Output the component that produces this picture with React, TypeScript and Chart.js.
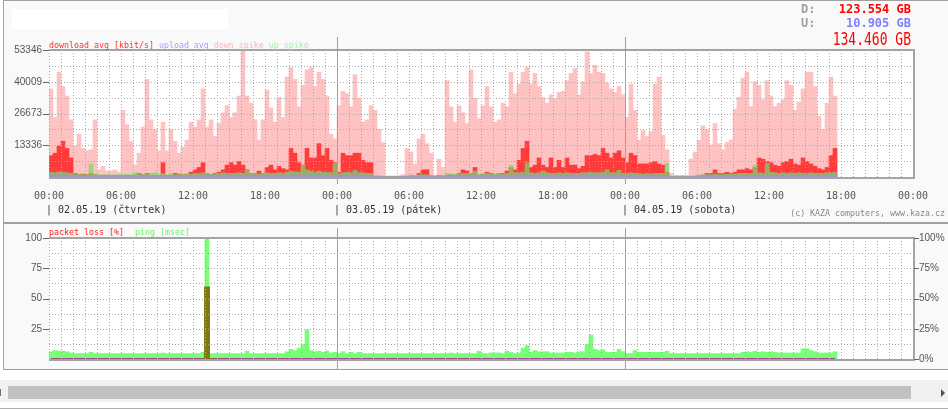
import React, { useEffect, useRef } from 'react';
import { Chart, registerables } from 'chart.js';

Chart.register(...registerables);

// ---- time axis (20-minute samples) ----
const STEPS_PER_HOUR = 3;
const TOTAL_HOURS = 72;
const TOTAL_STEPS = STEPS_PER_HOUR * TOTAL_HOURS;
const DAY_HOURS = [24, 48];

const xTickHours = [0, 6, 12, 18, 24, 30, 36, 42, 48, 54, 60, 66, 72];
const xTickLabels = ['00:00', '06:00', '12:00', '18:00', '00:00', '06:00', '12:00', '18:00', '00:00', '06:00', '12:00', '18:00', '00:00'];
const dayStartHours = [0, 24, 48];
const dayLabels = ['| 02.05.19 (čtvrtek)', '| 03.05.19 (pátek)', '| 04.05.19 (sobota)'];

// ---- traffic axis ----
const trafficMax = 53346;
const trafficTickValues = [0, 13336.5, 26673, 40009.5, 53346];
const trafficTickLabels = ['', '13336', '26673', '40009', '53346'];

// ---- ping / loss axes ----
const pingTickValues = [0, 25, 50, 75, 100];
const pingTickLabels = ['', '25', '50', '75', '100'];
const lossTickLabels = ['0%', '25%', '50%', '75%', '100%'];

// ---- series (kbit/s), one value per 20 minutes ----
const downSpike = [
  37000, 25000, 44000, 38000, 34000, 24000, 13000, 18000, 12000, 11000, 11500, 24000,
  3000, 4500, 2500, 2500, 3000, 2000, 28000, 22000, 15000, 5000, 10000, 21000,
  41000, 24000, 20000, 11000, 23000, 11000, 20000, 15000, 10000, 12500, 15500, 23000,
  21000, 24000, 37000, 21000, 24000, 17000, 22500, 27000, 30000, 25000, 27000, 34000,
  53000, 34000, 31000, 24000, 15500, 24000, 36500, 29000, 23000, 33500, 25000, 42000,
  46000, 41000, 29500, 38500, 45000, 46000, 38000, 44000, 41000, 34000, 18000, 16000,
  30000, 36000, 35000, 29500, 43000, 33000, 23000, 24000, 30000, 28000, 20000, 14500,
  300, 200, 200, 500, 1000, 12000, 10500, 5500, 16000, 18000, 14000, 10000,
  800, 7500, 4000, 40500, 29500, 23000, 30000, 27000, 22500, 45000, 33000, 24500,
  30000, 38000, 29500, 23000, 24000, 31000, 29500, 44000, 35000, 39000, 44000, 46000,
  39000, 43500, 38000, 33500, 31000, 34500, 33000, 35500, 36000, 40500, 43500, 45500,
  34500, 40000, 52500, 43500, 47000, 44000, 43500, 39500, 37000, 35500, 38000, 34500,
  25000, 39000, 28000, 15500, 19500, 17000, 19000, 39000, 42000, 17500, 11500, 1500,
  800, 600, 700, 600, 7500, 10500, 15500, 21500, 20000, 13500, 22500, 14000,
  11500, 14500, 15500, 28500, 33500, 41500, 44000, 29500, 40000, 38500, 32500, 40500,
  34000, 29500, 31000, 32500, 40500, 38500, 28000, 31500, 37000, 44000, 44000, 38000,
  25500, 20000, 31000, 42000, 34000,
];

const downAvg = [
  9000, 10000, 13000, 15000, 12000, 8000, 1500, 1000, 1200, 1000, 1500, 1000,
  500, 500, 600, 500, 400, 500, 400, 600, 400, 300, 1500, 1000,
  1500, 600, 400, 600, 6000, 500, 800, 1500, 1200, 1000, 1200, 2000,
  3000, 4000, 6000, 1500, 1000, 1500, 2000, 3000, 5000, 6000, 5000, 6500,
  5000, 3000, 1500, 1500, 2500, 1500, 4000, 5000, 3000, 4500, 3500, 3000,
  12000, 10000, 6000, 5000, 12000, 8000, 8000, 14000, 9000, 12000, 7000, 6000,
  2000, 10000, 9000, 9000, 10000, 10000, 7000, 6000, 6000, 300, 300, 200,
  100, 100, 100, 100, 200, 300, 500, 400, 1500, 3000, 3000, 500,
  200, 600, 400, 600, 1000, 800, 1500, 3000, 2500, 1500, 4000, 800,
  1200, 2000, 1500, 1000, 1500, 1500, 2500, 4000, 3000, 7000, 12000, 15000,
  4000, 5000, 8000, 5000, 4000, 8000, 4000, 7000, 4000, 8000, 5000, 5000,
  3500, 4500, 9000, 9000, 9500, 9000, 12000, 10000, 8000, 10000, 11000, 8000,
  6000, 10000, 9000, 5500, 5500, 5500, 6000, 6500, 5500, 5000, 2000, 200,
  100, 100, 100, 100, 200, 300, 600, 800, 1500, 1500, 3000, 1500,
  1500, 2000, 1500, 2000, 3000, 3000, 3500, 3000, 4000, 8000, 7500, 6500,
  6000, 5000, 4500, 6000, 6500, 7500, 5500, 5000, 8000, 6500, 5500, 4500,
  3500, 3000, 4000, 9000, 12000,
];

const upSpike = [
  2000, 1800, 2200, 2000, 1800, 1500, 1200, 1000, 1000, 1000, 5500, 1200,
  900, 1000, 900, 900, 900, 900, 1000, 1200, 1000, 1800, 1200, 1000,
  1200, 1500, 1800, 1000, 1500, 1000, 1200, 1000, 1000, 1000, 1200, 1200,
  1500, 1500, 1800, 1500, 1200, 1200, 1500, 1800, 1500, 1500, 1500, 1800,
  1500, 2900, 1500, 1500, 1200, 1500, 1800, 1500, 1500, 1800, 1500, 2000,
  2500, 2200, 2000, 5000, 3000, 2500, 2000, 2500, 2000, 2000, 1800, 5700,
  1500, 1800, 2000, 1800, 2800, 1800, 1800, 1500, 1500, 600, 500, 400,
  400, 400, 400, 400, 400, 600, 800, 700, 900, 1000, 900, 600,
  500, 700, 600, 1500, 1200, 1200, 1200, 1500, 1500, 1500, 2500, 1200,
  1200, 1500, 1200, 1200, 1500, 1200, 1500, 5000, 1800, 1800, 2000, 6000,
  1800, 1500, 1800, 2500, 1800, 1500, 1500, 1800, 1500, 1800, 1500, 1500,
  1500, 1800, 1800, 2000, 1800, 1800, 2000, 3000, 1800, 1800, 2800, 1500,
  1500, 1800, 1500, 1500, 1200, 1500, 1200, 1500, 1500, 1500, 5700, 400,
  400, 400, 400, 400, 400, 500, 800, 1000, 1000, 1000, 1200, 1000,
  1000, 1200, 1200, 1200, 1500, 1500, 1500, 1500, 5000, 1800, 1500, 5700,
  2000, 1800, 1500, 1800, 1500, 1800, 1500, 1800, 1500, 1500, 1800, 1500,
  1500, 1500, 1800, 1800, 2000,
];

const upAvg = [
  900, 950, 900, 900, 850, 800, 650, 600, 600, 600, 650, 600,
  550, 600, 550, 550, 550, 600, 600, 650, 600, 650, 700, 650,
  700, 750, 700, 650, 700, 650, 700, 650, 700, 700, 700, 750,
  750, 800, 800, 750, 700, 750, 800, 800, 850, 850, 800, 850,
  850, 800, 800, 750, 700, 750, 800, 850, 800, 850, 800, 850,
  900, 900, 850, 900, 950, 900, 900, 900, 850, 850, 800, 850,
  800, 850, 850, 850, 900, 850, 800, 800, 750, 300, 250, 200,
  100, 100, 100, 100, 150, 250, 300, 250, 350, 400, 350, 250,
  200, 300, 250, 700, 650, 650, 700, 750, 700, 750, 800, 700,
  750, 800, 750, 700, 750, 750, 800, 850, 800, 850, 900, 900,
  850, 850, 900, 850, 800, 850, 800, 850, 800, 850, 850, 900,
  850, 900, 900, 900, 900, 850, 900, 850, 850, 850, 850, 800,
  800, 850, 800, 750, 750, 800, 800, 800, 750, 700, 500, 150,
  100, 100, 100, 100, 150, 250, 500, 550, 600, 600, 650, 600,
  600, 600, 650, 700, 700, 750, 750, 800, 800, 850, 850, 800,
  800, 800, 750, 800, 850, 850, 800, 800, 850, 850, 850, 800,
  750, 750, 800, 850, 900,
];

// ---- ping [msec] and packet loss [%], one value per 20 minutes ----
const ping = [
  6, 7, 6.5, 6.5, 6, 5, 4.5, 4.5, 4.5, 4.5, 5.5, 4.5,
  4.5, 4.5, 4.5, 4.5, 4.5, 4.5, 4.5, 4.5, 4.5, 4.5, 4.5, 4.5,
  4.5, 4.5, 4.5, 4.5, 5, 4.5, 4.5, 4.5, 4.5, 4.5, 4.5, 4.5,
  4.5, 4.5, 5.5, 100, 4.5, 4.5, 4.5, 4.5, 4.5, 4.5, 4.5, 4.5,
  4.5, 6.5, 4.5, 4.5, 4.5, 4.5, 4.5, 4.5, 4.5, 4.5, 4.5, 6,
  8, 7, 9, 12, 24, 7, 6, 6.5, 5.5, 6.5, 5, 5.5,
  4.5, 6, 4.5, 5.5, 4.5, 5.5, 4.5, 4.5, 4.5, 4.5, 4.5, 4.5,
  4.5, 4.5, 4.5, 4.5, 4.5, 4.5, 4.5, 4.5, 4.5, 4.5, 4.5, 4.5,
  4.5, 4.5, 4.5, 4.5, 5, 4.5, 4.5, 4.5, 4.5, 4.5, 4.5, 6.5,
  4.5, 4.5, 5, 5, 5, 4.5, 6.5, 5.5, 4.5, 5, 9, 11,
  5.5, 7, 6, 6, 6, 5, 5, 5, 5, 5.5, 5.5, 5,
  6, 6, 12, 20, 8, 7, 7.5, 5.5, 5.5, 5.5, 8, 6,
  4.5, 4.5, 7, 5.5, 5.5, 5.5, 5.5, 5.5, 5.5, 5.5, 6.5, 4.5,
  4.5, 4.5, 4.5, 4.5, 4.5, 4.5, 4.5, 4.5, 4.5, 4.5, 4.5, 4.5,
  4.5, 4.5, 4.5, 4.5, 4.5, 5.5, 6, 5.5, 6.5, 5.5, 6, 5.5,
  6, 5.5, 5, 5, 5, 5, 5, 5, 8.5, 8.5, 7, 6,
  5, 5, 5, 5, 6,
];

const packetLoss = [
  0, 0, 0, 0, 0, 0, 0, 0, 0, 0, 0, 0,
  0, 0, 0, 0, 0, 0, 0, 0, 0, 0, 0, 0,
  0, 0, 0, 0, 0, 0, 0, 0, 0, 0, 0, 0,
  0, 0, 0, 59, 0, 0, 0, 0, 0, 0, 0, 0,
  0, 0, 0, 0, 0, 0, 0, 0, 0, 0, 0, 0,
  0, 0, 0, 0, 0, 0, 0, 0, 0, 0, 0, 0,
  0, 0, 0, 0, 0, 0, 0, 0, 0, 0, 0, 0,
  0, 0, 0, 0, 0, 0, 0, 0, 0, 0, 0, 0,
  0, 0, 0, 0, 0, 0, 0, 0, 0, 0, 0, 0,
  0, 0, 0, 0, 0, 0, 0, 0, 0, 0, 0, 0,
  0, 0, 0, 0, 0, 0, 0, 0, 0, 0, 0, 0,
  0, 0, 0, 0, 0, 0, 0, 0, 0, 0, 0, 0,
  0, 0, 0, 0, 0, 0, 0, 0, 0, 0, 0, 0,
  0, 0, 0, 0, 0, 0, 0, 0, 0, 0, 0, 0,
  0, 0, 0, 0, 0, 0, 0, 0, 0, 0, 0, 0,
  0, 0, 0, 0, 0, 0, 0, 0, 0, 0, 0, 0,
  0, 0, 0, 0, 0,
];

const totals = { down: '123.554 GB', up: '10.905 GB', sum: '134.460 GB' };

// ---- layout constants (page pixels) ----
const PLOT_LEFT = 49;
const PX_PER_HOUR = 12;

const toPoints = (arr: number[]) => arr.map((v, i) => ({ x: i + 0.5, y: v }));

function gridPlugin(cfg: { dayTop: number; dayBottom: number; axes: { id: string; side: string }[] }) {
  return {
    id: 'kazaGrid',
    beforeDatasetsDraw(chart: any) {
      const { ctx, chartArea: a } = chart;
      ctx.save();
      ctx.fillStyle = '#ffffff';
      ctx.fillRect(a.left, a.top, a.right - a.left, a.bottom - a.top);
      ctx.restore();
    },
    afterDatasetsDraw(chart: any) {
      const { ctx, chartArea: a, scales } = chart;
      const xs = scales.x;
      const ys = scales[cfg.axes[0].id];
      ctx.save();
      ctx.lineWidth = 1;
      ctx.strokeStyle = '#a8a8a8';
      ctx.setLineDash([1, 2]);
      for (let k = 1; k < 8; k++) {
        const y = Math.round(ys.getPixelForValue(ys.min + ((ys.max - ys.min) * k) / 8)) + 0.5;
        ctx.beginPath();
        ctx.moveTo(a.left, y);
        ctx.lineTo(a.right, y);
        ctx.stroke();
      }
      for (let h = 0; h < TOTAL_HOURS; h++) {
        if (DAY_HOURS.includes(h)) continue;
        const x = Math.round(xs.getPixelForValue(h * STEPS_PER_HOUR)) + 0.5;
        ctx.beginPath();
        ctx.moveTo(x, a.top);
        ctx.lineTo(x, a.bottom);
        ctx.stroke();
      }
      ctx.setLineDash([]);
      ctx.strokeStyle = '#a0a0a0';
      for (const h of DAY_HOURS) {
        const x = Math.round(xs.getPixelForValue(h * STEPS_PER_HOUR)) + 0.5;
        ctx.beginPath();
        ctx.moveTo(x, cfg.dayTop);
        ctx.lineTo(x, cfg.dayBottom);
        ctx.stroke();
      }
      ctx.lineWidth = 2;
      ctx.strokeStyle = '#a4a4a4';
      ctx.beginPath();
      ctx.moveTo(a.left, a.top);
      ctx.lineTo(a.right + 2, a.top);
      ctx.moveTo(a.right + 1, a.top);
      ctx.lineTo(a.right + 1, a.bottom + 2);
      ctx.moveTo(a.left, a.bottom + 1);
      ctx.lineTo(a.right + 2, a.bottom + 1);
      ctx.stroke();
      ctx.lineWidth = 1;
      ctx.strokeStyle = '#666666';
      for (const ax of cfg.axes) {
        const s = scales[ax.id];
        s.ticks.forEach((t: any) => {
          if (!t.label) return;
          const y = Math.round(s.getPixelForValue(t.value)) + 0.5;
          ctx.beginPath();
          if (ax.side === 'left') {
            ctx.moveTo(a.left - 6, y);
            ctx.lineTo(a.left, y);
          } else {
            ctx.moveTo(a.right + 1, y);
            ctx.lineTo(a.right + 6, y);
          }
          ctx.stroke();
        });
      }
      ctx.restore();
    },
  };
}

const tickFont = { family: "'Liberation Sans', Arial, sans-serif", size: 10 };
const monoFont = "'DejaVu Sans Mono', monospace";
const noGrid = { display: false, drawTicks: false, tickLength: 0 };

export default function App() {
  const topRef = useRef<HTMLCanvasElement>(null);
  const botRef = useRef<HTMLCanvasElement>(null);

  useEffect(() => {
    const barDefaults = { grouped: false, barPercentage: 1, categoryPercentage: 1, borderWidth: 0 };
    const top = new Chart(topRef.current as any, {
      type: 'bar',
      data: {
        datasets: [
          { label: 'upload avg', data: toPoints(upAvg), backgroundColor: '#9a9ac2' },
          { label: 'up spike', data: toPoints(upSpike), backgroundColor: 'rgba(120,215,105,0.72)' },
          { label: 'download avg [kbit/s]', data: toPoints(downAvg), backgroundColor: '#ff3c3c' },
          { label: 'down spike', data: toPoints(downSpike), backgroundColor: '#ffc2c2' },
        ],
      } as any,
      options: {
        responsive: false,
        animation: false,
        devicePixelRatio: 1,
        events: [],
        layout: { padding: { top: 50, right: 35, left: 0, bottom: 0 } },
        datasets: { bar: barDefaults },
        plugins: { legend: { display: false }, tooltip: { enabled: false } },
        scales: {
          x: {
            type: 'linear',
            min: 0,
            max: TOTAL_STEPS,
            offset: false,
            grid: noGrid,
            border: { display: false },
            afterBuildTicks: (s: any) => {
              s.ticks = xTickHours.map((h) => ({ value: h * STEPS_PER_HOUR }));
            },
            afterFit: (s: any) => {
              s.height = 43;
            },
            ticks: {
              autoSkip: false,
              maxRotation: 0,
              minRotation: 0,
              padding: 13,
              color: '#555555',
              font: { family: monoFont, size: 10 },
              callback: (_v: any, i: number) => xTickLabels[i],
            },
          },
          y: {
            type: 'linear',
            min: 0,
            max: trafficMax,
            grid: noGrid,
            border: { display: false },
            afterBuildTicks: (s: any) => {
              s.ticks = trafficTickValues.map((v) => ({ value: v }));
            },
            afterFit: (s: any) => {
              s.width = PLOT_LEFT;
            },
            ticks: {
              padding: 7,
              color: '#555555',
              font: tickFont,
              callback: (_v: any, i: number) => trafficTickLabels[i],
            },
          },
        },
      } as any,
      plugins: [gridPlugin({ dayTop: 37, dayBottom: 184, axes: [{ id: 'y', side: 'left' }] })],
    });

    const bot = new Chart(botRef.current as any, {
      type: 'bar',
      data: {
        datasets: [
          {
            type: 'line',
            label: 'packet loss [%]',
            data: toPoints(packetLoss),
            yAxisID: 'y2',
            stepped: 'middle',
            fill: 'origin',
            backgroundColor: '#7c7a10',
            borderColor: '#a8488c',
            borderWidth: 2,
            pointRadius: 0,
            order: 0,
            segment: {
              borderColor: (c: any) => (c.p0.parsed.y !== c.p1.parsed.y ? '#7c7a10' : '#a8488c'),
            },
          },
          { label: 'ping [msec]', data: toPoints(ping), yAxisID: 'y', backgroundColor: '#78ff78', order: 1 },
        ],
      } as any,
      options: {
        responsive: false,
        animation: false,
        devicePixelRatio: 1,
        events: [],
        layout: { padding: { top: 16, right: 0, left: 0, bottom: 6 } },
        datasets: { bar: barDefaults },
        plugins: { legend: { display: false }, tooltip: { enabled: false } },
        scales: {
          x: { type: 'linear', min: 0, max: TOTAL_STEPS, offset: false, display: false },
          y: {
            type: 'linear',
            position: 'left',
            min: 0,
            max: 100,
            grid: noGrid,
            border: { display: false },
            afterBuildTicks: (s: any) => {
              s.ticks = pingTickValues.map((v) => ({ value: v }));
            },
            afterFit: (s: any) => {
              s.width = PLOT_LEFT;
            },
            ticks: {
              padding: 7,
              color: '#555555',
              font: tickFont,
              callback: (_v: any, i: number) => pingTickLabels[i],
            },
          },
          y2: {
            type: 'linear',
            position: 'right',
            min: 0,
            max: 100,
            grid: noGrid,
            border: { display: false },
            afterBuildTicks: (s: any) => {
              s.ticks = pingTickValues.map((v) => ({ value: v }));
            },
            afterFit: (s: any) => {
              s.width = 35;
            },
            ticks: {
              padding: 6,
              color: '#555555',
              font: tickFont,
              callback: (_v: any, i: number) => lossTickLabels[i],
            },
          },
        },
      } as any,
      plugins: [
        gridPlugin({
          dayTop: 6,
          dayBottom: 148,
          axes: [
            { id: 'y', side: 'left' },
            { id: 'y2', side: 'right' },
          ],
        }),
      ],
    });

    return () => {
      top.destroy();
      bot.destroy();
    };
  }, []);

  const abs = (s: any) => ({ position: 'absolute', whiteSpace: 'pre', margin: 0, ...s }) as any;

  return (
    <div style={{ position: 'absolute', left: 0, top: 0, width: 948, height: 410, background: '#ffffff', overflow: 'hidden' }}>
      {/* panel */}
      <div style={abs({ left: 3, top: 0, width: 945, height: 370, background: '#f9f9f9', borderTop: '1px solid #a0a0a0', borderLeft: '1px solid #a0a0a0', borderBottom: '1px solid #a0a0a0', boxSizing: 'border-box' })} />
      <div style={abs({ left: 12, top: 9, width: 216, height: 20, background: '#ffffff' })} />
      <div style={abs({ left: 3, top: 222, width: 945, height: 2, background: '#a0a0a0' })} />

      <canvas ref={topRef} width={948} height={220} style={{ position: 'absolute', left: 0, top: 0, width: 948, height: 220 }} />
      <canvas ref={botRef} width={948} height={150} style={{ position: 'absolute', left: 0, top: 222, width: 948, height: 150 }} />

      {/* totals */}
      <div style={abs({ left: 801, top: 2.5, font: `bold 12px/12px ${monoFont}`, color: '#a0a0a0' })}>D:</div>
      <div style={abs({ right: 37, top: 2.5, font: `bold 12px/12px ${monoFont}`, color: '#ff0000' })}>{totals.down}</div>
      <div style={abs({ left: 801, top: 16.7, font: `bold 12px/12px ${monoFont}`, color: '#a0a0a0' })}>U:</div>
      <div style={abs({ right: 37, top: 16.7, font: `bold 12px/12px ${monoFont}`, color: '#8080ff' })}>{totals.up}</div>
      <div style={abs({ right: 37, top: 32, font: `13px/15px ${monoFont}`, color: '#ff0000', transform: 'scaleY(1.3)', transformOrigin: 'center' })}>{totals.sum}</div>

      {/* traffic legend */}
      <div style={abs({ left: PLOT_LEFT, top: 40, font: `8.3px/10px ${monoFont}` })}>
        <span style={{ color: '#ff3030' }}>download avg [kbit/s]</span>
        <span> </span>
        <span style={{ color: '#a4a4ff' }}>upload avg</span>
        <span> </span>
        <span style={{ color: '#ffb4b4' }}>down spike</span>
        <span> </span>
        <span style={{ color: '#a8f0a8' }}>up spike</span>
      </div>

      {/* day labels */}
      {dayLabels.map((lbl, i) => (
        <div key={lbl} style={abs({ left: PLOT_LEFT + dayStartHours[i] * PX_PER_HOUR - 3, top: 204, font: `10px/12px ${monoFont}`, color: '#333333' })}>
          {lbl}
        </div>
      ))}
      <div style={abs({ right: 3, top: 207.5, font: `8.3px/10px ${monoFont}`, color: '#888888' })}>(c) KAZA computers, www.kaza.cz</div>

      {/* ping legend */}
      <div style={abs({ left: PLOT_LEFT, top: 227, font: `8.3px/10px ${monoFont}`, color: '#ff2020' })}>packet loss [%]</div>
      <div style={abs({ left: 135, top: 227, font: `8.3px/10px ${monoFont}`, color: '#6ef06e' })}>ping [msec]</div>

      {/* scrollbar */}
      <div style={abs({ left: 0, top: 380, width: 948, height: 22, background: '#f1f1f1' })} />
      <div style={abs({ left: 8, top: 386, width: 903, height: 13, background: '#c1c1c1' })} />
      <div style={abs({ left: 0, top: 389, width: 1, height: 7, background: '#707070' })} />
      <div style={abs({ left: 941, top: 389, width: 0, height: 0, borderLeft: '4px solid #505050', borderTop: '4px solid transparent', borderBottom: '4px solid transparent' })} />
      <div style={abs({ left: 0, top: 408, width: 948, height: 1, background: '#b0b0b0' })} />
    </div>
  );
}
